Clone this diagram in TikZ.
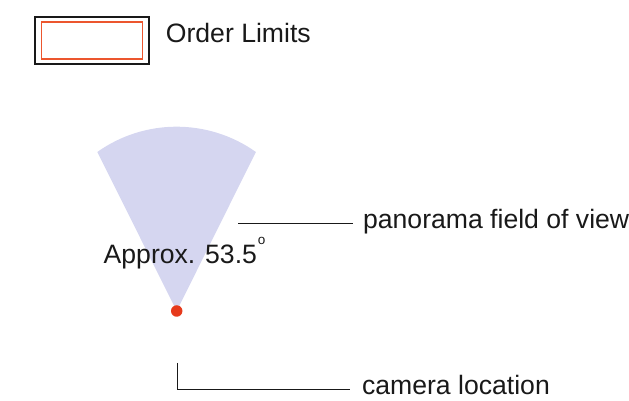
\documentclass[tikz,border=0pt]{standalone}
\usepackage{fontspec}
\setmainfont{Liberation Sans}
\definecolor{fovcol}{RGB}{213,214,240}
\definecolor{dotcol}{RGB}{230,58,28}
\definecolor{ordercol}{RGB}{236,86,46}
\definecolor{inkcol}{RGB}{25,25,25}

\begin{document}
\begin{tikzpicture}[x=1pt, y=1pt,
                    note/.style={inner sep=0pt, text=inkcol, font=\fontsize{26.6}{32}\selectfont},
                    leader/.style={draw=inkcol, line width=1.5pt},
                    thick]
\useasboundingbox (0,0) rectangle (629,401);

% Legend
\node (legendbox) [draw=inkcol, line width=2pt, minimum width=114, minimum height=47.3, inner sep=0pt] at (92,360.4) {};
\node (limitbox) [draw=ordercol, line width=1.4pt, minimum width=100.7, minimum height=37, inner sep=0pt] at (legendbox.center) {};
\node (limitlabel) [note, anchor=base west] at (165.5,358.3) {Order Limits};

% Field of view
\coordinate (apex) at (176.7,90);
\fill[fovcol] (apex) -- (97.3,249) arc[start angle=125.4, end angle=54.6, radius=136.9] -- cycle;
\node (cam) [circle, fill=dotcol, inner sep=0pt, minimum size=11.5] at (apex) {};
\node (anglelabel) [note, anchor=base west] at (103.3,137) {Approx. 53.5\hspace{1pt}\raisebox{19pt}{\fontsize{13.5}{14}\selectfont o}};

% Labels
\node (fovlabel) [note, anchor=base west] at (362.7,172) {panorama field of view};
\node (camlabel) [note, anchor=base west] at (361.7,6) {camera location};
\coordinate (fovtip) at (238,177.7);
\coordinate (camtip) at (177.3,38);
\coordinate (camfoot) at (177.3,11.7);

% Edges
\draw[leader, shorten >=9.7pt] (fovtip) -- (fovtip -| fovlabel.west);
\draw[leader, shorten >=11.7pt] (camtip) -- (camfoot) -- (camfoot -| camlabel.west);

\end{tikzpicture}
\end{document}
